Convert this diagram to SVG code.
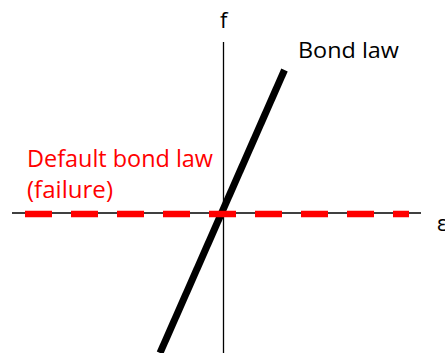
<svg xmlns="http://www.w3.org/2000/svg" width="445" height="353" viewBox="0 0 445 353">
<style>
.lbl{font-family:"Open Sans","Liberation Sans",sans-serif;font-size:22px;fill:#000}
.red{fill:#ff0000;font-size:23px}
.axis{stroke:#000;stroke-width:1.3;fill:none}
</style>
<rect width="445" height="353" fill="#fff"/>
<g id="connectors">
<line id="x-axis" class="axis" x1="12" y1="213" x2="421" y2="213"/>
<line id="y-axis" class="axis" x1="223.5" y1="42" x2="223.5" y2="353"/>
<line id="bond-law-line" x1="160" y1="353" x2="284.5" y2="70" stroke="#000" stroke-width="7"/>
<line id="default-law-line" x1="25" y1="214" x2="409" y2="214" stroke="#ff0000" stroke-width="6.5" stroke-dasharray="27 19"/>
</g>
<g id="label-f"><text class="lbl" x="220" y="28">f</text></g>
<g id="label-eps"><text class="lbl" x="437" y="231">ε</text></g>
<g id="label-bond"><text class="lbl" x="298" y="58" textLength="101" lengthAdjust="spacingAndGlyphs">Bond law</text></g>
<g id="label-default">
<text class="lbl red" x="27" y="167" textLength="186" lengthAdjust="spacingAndGlyphs">Default bond law</text>
<text class="lbl red" x="27" y="198" textLength="86" lengthAdjust="spacingAndGlyphs">(failure)</text>
</g>
</svg>
